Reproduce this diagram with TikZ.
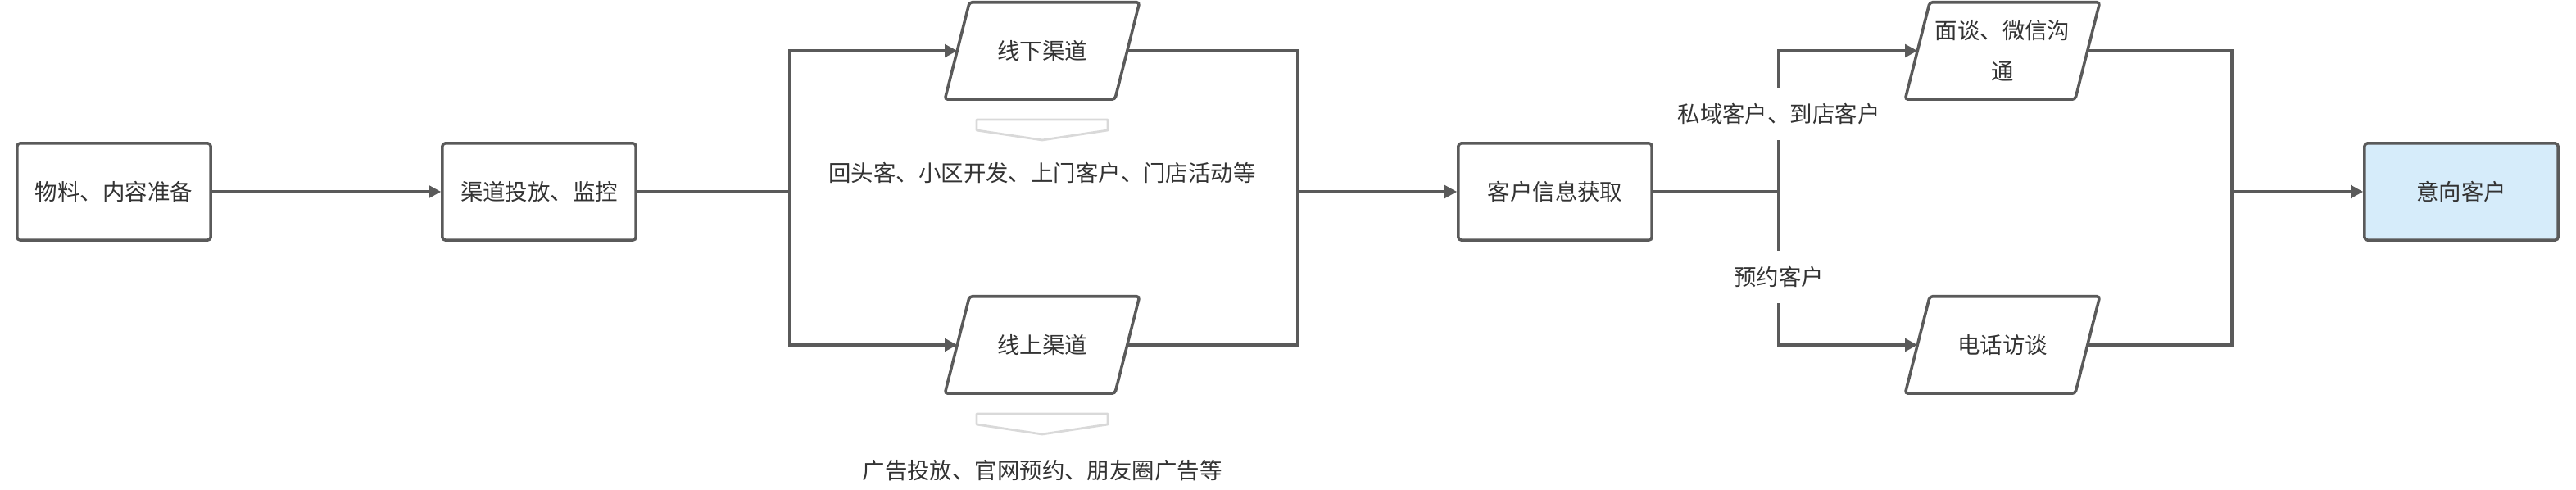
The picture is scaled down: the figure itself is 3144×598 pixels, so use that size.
\documentclass[tikz,border=0pt]{standalone}
\usepackage{fontspec}
\newfontfamily\cjk{Noto Sans CJK SC}
\usetikzlibrary{calc,arrows.meta}
\definecolor{edgegray}{HTML}{5A5A5A}
\definecolor{textgray}{HTML}{333333}
\definecolor{hintgray}{HTML}{D9D9D9}
\definecolor{goalblue}{HTML}{D6ECFA}

\begin{document}
\begin{tikzpicture}[x=0.01cm, y=-0.01cm,
        every node/.style={font=\cjk\fontsize{7.8pt}{14pt}\selectfont, text=textgray},
        box/.style={draw=edgegray, line width=1pt, rounded corners=1pt, minimum width=2.36cm, minimum height=1.18cm, fill=white},
        para/.style={minimum width=2.06cm, minimum height=1.17cm, align=center},
        paraline/.style={draw=edgegray, line width=1pt, rounded corners=1pt},
        link/.style={draw=edgegray, line width=1pt},
        arrow/.style={link, -{Triangle[length=4.3pt, width=4.4pt]}},
        hint/.style={draw=hintgray, line width=0.8pt, line join=round},
        tag/.style={fill=white, inner xsep=1pt, minimum height=0.64cm}]
        \useasboundingbox (0,0) rectangle (3144,598);

        \node[box] (prep) at (139,234) {物料、内容准备};
        \node[box] (launch) at (658,234) {渠道投放、监控};
        \node[para] (offline) at (1272,62) {线下渠道};
        \node[para] (online) at (1272,421) {线上渠道};
        \node[box] (info) at (1898,234) {客户信息获取};
        \node[para] (talk) at (2444,62) {面谈、微信沟\\通};
        \node[para] (phone) at (2444,421) {电话访谈};
        \node[box, fill=goalblue] (goal) at (3004,234) {意向客户};

        % slanted outlines of the channel / contact nodes
        \foreach \n in {offline,online,talk,phone}
            \draw[paraline] ($(\n.north west)+(15,0)$) -- ($(\n.north east)+(15,0)$)
                -- ($(\n.south east)-(15,0)$) -- ($(\n.south west)-(15,0)$) -- cycle;

        \coordinate (split) at (964,234);
        \coordinate (merge) at (1584,234);
        \coordinate (fork) at (2171,234);
        \coordinate (join) at (2724,234);

        \draw[arrow] (prep) -- (launch);
        \draw[link] (launch) -- (split);
        \draw[arrow] (split) |- (offline.west);
        \draw[arrow] (split) |- (online.west);
        \draw[link] (offline.east) -| (merge);
        \draw[link] (online.east) -| (merge);
        \draw[arrow] (merge) -- (info);

        \draw[link] (info) -- (fork);
        \draw[arrow] (fork) |- (talk.west);
        \draw[arrow] (fork) |- (phone.west);
        \node[tag] (private) at (2171,139) {私域客户、到店客户};
        \node[tag] (booked) at (2171,338) {预约客户};
        \draw[link] (talk.east) -| (join);
        \draw[link] (phone.east) -| (join);
        \draw[arrow] (join) -- (goal);

        % hints under the channels
        \draw[hint] (1192,146) -- (1352,146) -- (1352,159) -- (1272,171) -- (1192,159) -- cycle;
        \draw[hint] (1192,505) -- (1352,505) -- (1352,518) -- (1272,530) -- (1192,518) -- cycle;
        \node (offnote) at (1272,211) {回头客、小区开发、上门客户、门店活动等};
        \node (onnote) at (1272,574) {广告投放、官网预约、朋友圈广告等};
    \end{tikzpicture}
\end{document}
